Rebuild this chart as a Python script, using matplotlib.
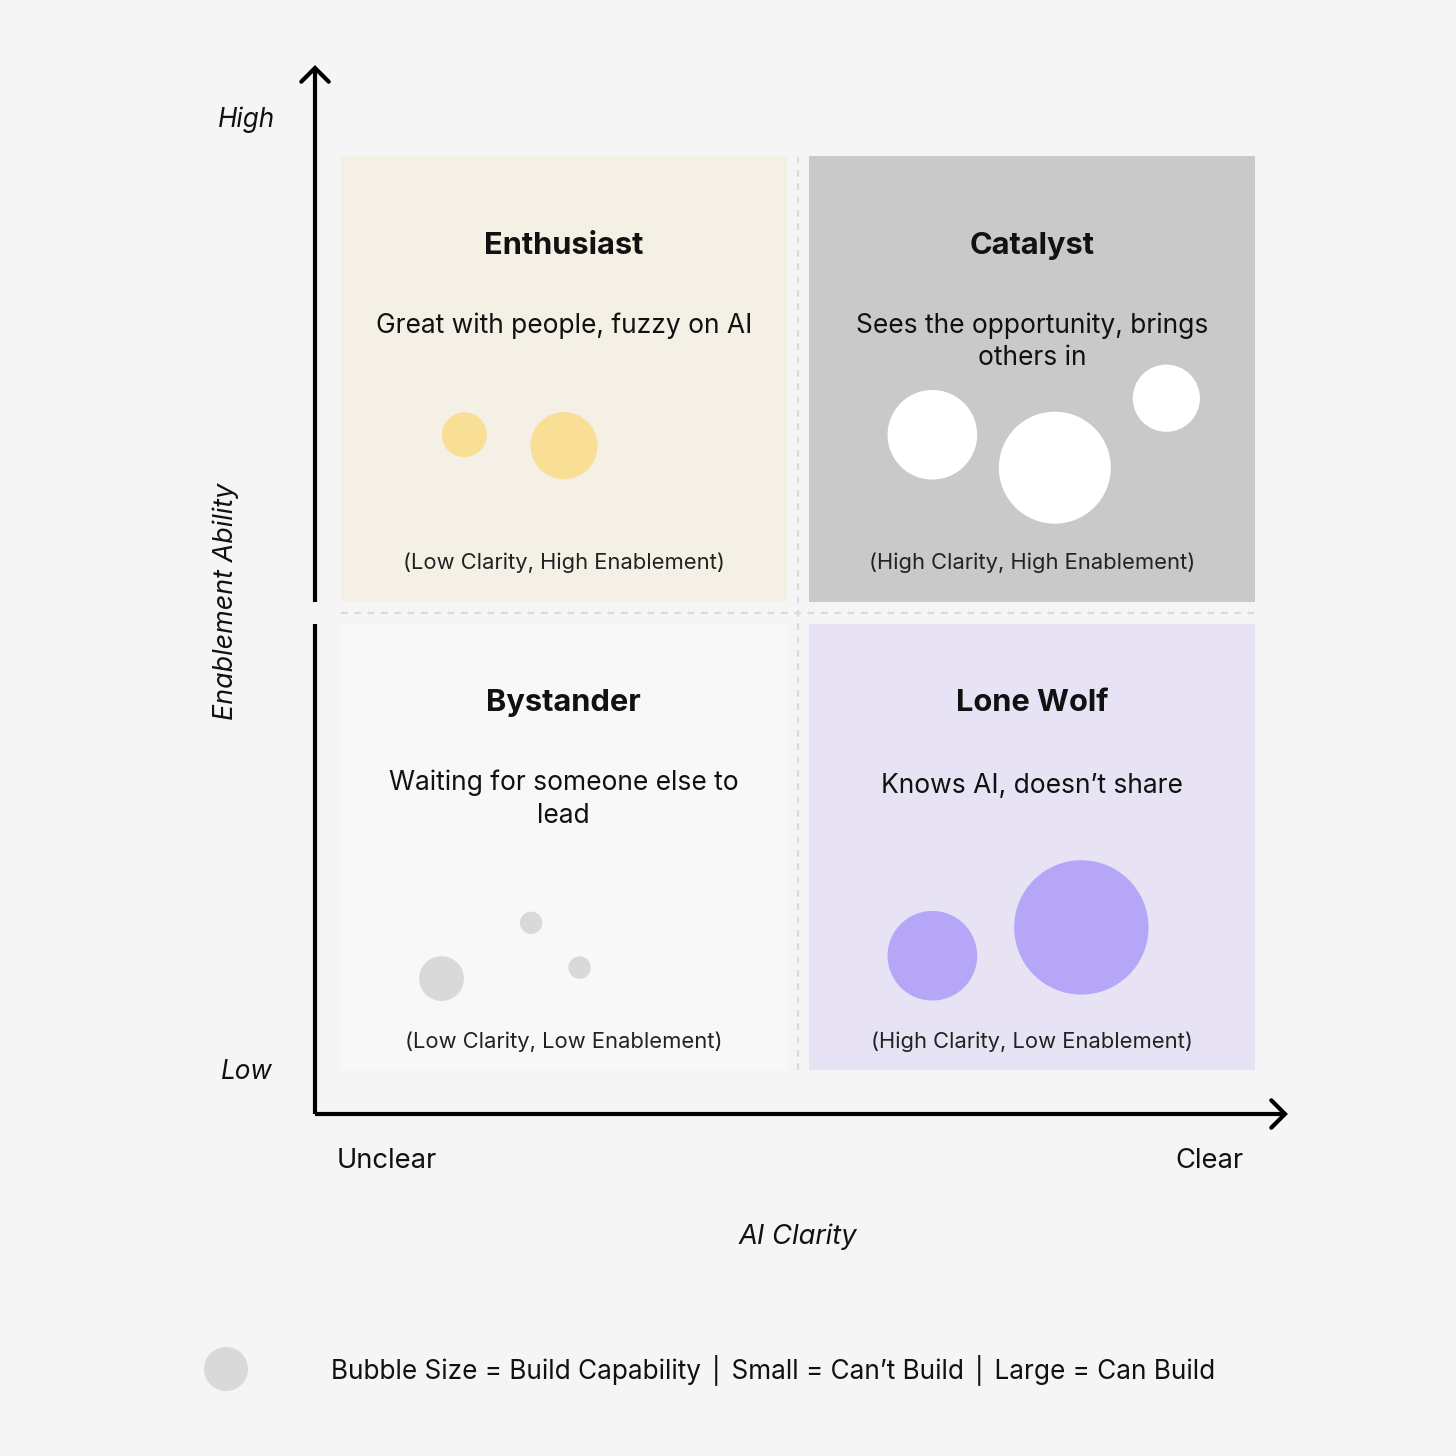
import matplotlib.pyplot as plt
from matplotlib.patches import Rectangle, Circle

plt.rcParams["font.family"] = ["Inter", "DejaVu Sans"]

# Quadrant content (x = AI clarity, y = enablement ability, both 0..10)
quadrants = ["Enthusiast", "Catalyst", "Bystander", "Lone Wolf"]
subtitles = [
    "Great with people, fuzzy on AI",
    "Sees the opportunity, brings\nothers in",
    "Waiting for someone else to\nlead",
    "Knows AI, doesn\u2019t share",
]
captions = [
    "(Low Clarity, High Enablement)",
    "(High Clarity, High Enablement)",
    "(Low Clarity, Low Enablement)",
    "(High Clarity, Low Enablement)",
]
quad_colors = ["#F5F0E5", "#C9C9C9", "#F8F8F8", "#E7E3F5"]
bubble_colors = ["#F9DE96", "#FFFFFF", "#D9D9D9", "#B5A6F8"]

# Bubbles: clarity, enablement, build capability (1 = can't build ... 6 = can build)
bubble_quad = [0, 0, 1, 1, 1, 2, 2, 2, 3, 3]
bubble_x = [1.35, 2.44, 6.47, 7.81, 9.03, 2.08, 1.10, 2.61, 6.47, 8.10]
bubble_y = [6.95, 6.83, 6.95, 6.59, 7.35, 1.61, 1.00, 1.12, 1.25, 1.56]
bubble_build = [2, 3, 4, 5, 3, 1, 2, 1, 4, 6]

BG = "#F5F5F5"
PX = 91.4  # pixels per data unit
QW = 4.875  # quadrant size
GAP = 0.25

fig = plt.figure(figsize=(14.56, 14.56), dpi=100, facecolor=BG)
ax = fig.add_axes([0, 0, 1, 1])
ax.set_facecolor(BG)
ax.set_xlim(-341 / PX, (1456 - 341) / PX)
ax.set_ylim((1070 - 1456) / PX, 1070 / PX)
ax.axis("off")

# Quadrant backgrounds and text
origins = [(0, QW + GAP), (QW + GAP, QW + GAP), (0, 0), (QW + GAP, 0)]
title_off = [0.98, 0.98, 0.86, 0.86]
sub_off = [1.71, 1.71, 1.59, 1.63]
cap_off = [0.43, 0.43, 0.31, 0.31]
for i, (x0, y0) in enumerate(origins):
    ax.add_patch(Rectangle((x0, y0), QW, QW, facecolor=quad_colors[i],
                           edgecolor="none", zorder=1))
    cx = x0 + QW / 2
    ax.text(cx, y0 + QW - title_off[i], quadrants[i], ha="center", va="center",
            fontsize=22.2, fontweight="bold", color="#111111", zorder=3)
    ax.text(cx, y0 + QW - sub_off[i], subtitles[i], ha="center", va="top",
            fontsize=19, color="#111111", linespacing=1.32, zorder=3)
    ax.text(cx, y0 + cap_off[i], captions[i], ha="center", va="center",
            fontsize=15.8, color="#222222", zorder=3)

# Bubbles
for q, x, y, b in zip(bubble_quad, bubble_x, bubble_y, bubble_build):
    ax.add_patch(Circle((x, y), b * 11.2 / PX, facecolor=bubble_colors[q],
                        edgecolor="none", zorder=2))

# Dotted separators
mid = QW + GAP / 2
ax.plot([0, 10], [mid, mid], color="#DADADA", lw=1.6, ls=(0, (3, 3)), zorder=1)
ax.plot([mid, mid], [0, 10], color="#DADADA", lw=1.6, ls=(0, (3, 3)), zorder=1)

# Axis arrows
ox, oy = -26 / PX, -44 / PX
ax.plot([ox, ox], [oy, QW], color="black", lw=3, solid_capstyle="butt")
ax.plot([ox, ox], [QW + GAP, (1070 - 68) / PX], color="black", lw=3,
        solid_capstyle="butt")
top = (1070 - 68) / PX
ax.plot([ox - 0.15, ox, ox + 0.15], [top - 0.15, top, top - 0.15],
        color="black", lw=3, solid_capstyle="round", solid_joinstyle="miter")
ax.plot([ox, (1285 - 341) / PX], [oy, oy], color="black", lw=3,
        solid_capstyle="butt")
right = (1285 - 341) / PX
ax.plot([right - 0.15, right, right - 0.15], [oy + 0.15, oy, oy - 0.15],
        color="black", lw=3, solid_capstyle="round", solid_joinstyle="miter")

# Axis labels
ax.text((247 - 341) / PX, (1070 - 120) / PX, "High", ha="center", va="center",
        fontsize=18.8, style="italic", color="#111111")
ax.text((247 - 341) / PX, (1070 - 1072) / PX, "Low", ha="center", va="center",
        fontsize=18.8, style="italic", color="#111111")
ax.text((226 - 341) / PX, (1070 - 601) / PX, "Enablement Ability", rotation=90,
        ha="center", va="center", fontsize=19.4, style="italic", color="#111111")
ax.text((337 - 341) / PX, (1070 - 1161) / PX, "Unclear", ha="left", va="center",
        fontsize=19.7, color="#111111")
ax.text((1244 - 341) / PX, (1070 - 1161) / PX, "Clear", ha="right", va="center",
        fontsize=19.7, color="#111111")
ax.text((798 - 341) / PX, (1070 - 1237) / PX, "AI Clarity", ha="center",
        va="center", fontsize=19.7, style="italic", color="#111111")

# Legend
ax.add_patch(Circle(((226 - 341) / PX, (1070 - 1369) / PX), 22 / PX,
                    facecolor="#D9D9D9", edgecolor="none"))
ax.text((331 - 341) / PX, (1070 - 1370) / PX,
        "Bubble Size = Build Capability \u2502 Small = Can\u2019t Build \u2502 Large = Can Build",
        ha="left", va="center", fontsize=18.85, color="#111111")

fig.savefig("out.png", dpi=100, facecolor=BG)
